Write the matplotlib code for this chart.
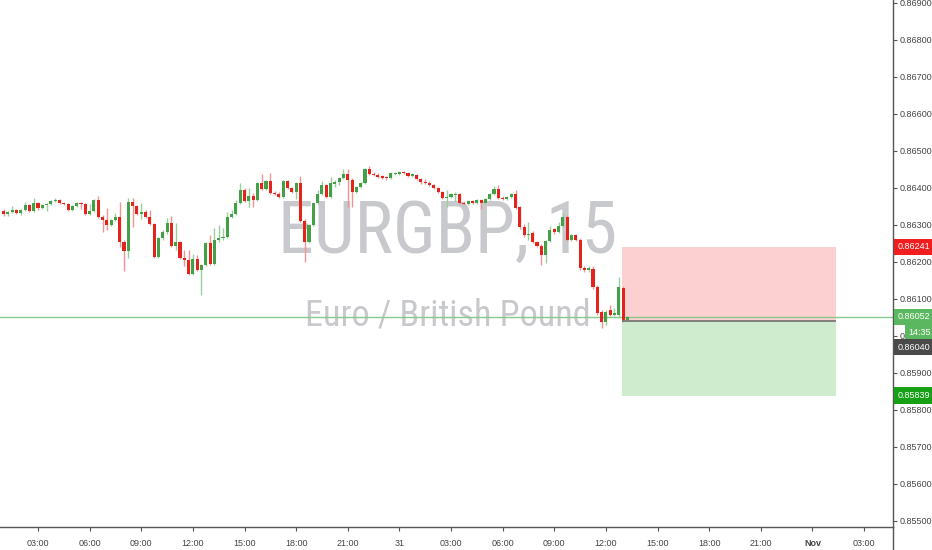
import numpy as np
import matplotlib
matplotlib.use("Agg")
from matplotlib import pyplot as plt
from matplotlib.patches import Rectangle
from matplotlib.lines import Line2D

# EURGBP 15 min candles, bar 0 = 03:00 on Oct 30
opens = [0.86338, 0.86330, 0.86335, 0.86340, 0.86332, 0.86340, 0.86354, 0.86338, 0.86359, 0.86346,
         0.86354, 0.86357, 0.86365, 0.86367, 0.86359, 0.86357, 0.86340, 0.86351, 0.86359, 0.86357,
         0.86330, 0.86338, 0.86367, 0.86322, 0.86313, 0.86300, 0.86313, 0.86322, 0.86254, 0.86230,
         0.86362, 0.86351, 0.86330, 0.86335, 0.86322, 0.86303, 0.86213, 0.86265, 0.86281, 0.86305,
         0.86243, 0.86254, 0.86211, 0.86205, 0.86167, 0.86208, 0.86178, 0.86192, 0.86251, 0.86195,
         0.86259, 0.86265, 0.86268, 0.86322, 0.86330, 0.86359, 0.86394, 0.86365, 0.86378, 0.86367,
         0.86413, 0.86397, 0.86419, 0.86386, 0.86384, 0.86376, 0.86419, 0.86400, 0.86389, 0.86413,
         0.86311, 0.86254, 0.86300, 0.86359, 0.86384, 0.86408, 0.86376, 0.86411, 0.86416, 0.86427,
         0.86438, 0.86422, 0.86389, 0.86403, 0.86413, 0.86451, 0.86438, 0.86435, 0.86432, 0.86430,
         0.86427, 0.86438, 0.86438, 0.86443, 0.86440, 0.86432, 0.86435, 0.86424, 0.86416, 0.86413,
         0.86408, 0.86400, 0.86389, 0.86373, 0.86376, 0.86381, 0.86384, 0.86359, 0.86357, 0.86365,
         0.86359, 0.86367, 0.86359, 0.86370, 0.86384, 0.86397, 0.86373, 0.86370, 0.86376, 0.86384,
         0.86349, 0.86295, 0.86273, 0.86278, 0.86254, 0.86243, 0.86219, 0.86257, 0.86289, 0.86281,
         0.86297, 0.86322, 0.86259, 0.86273, 0.86259, 0.86184, 0.86178, 0.86181, 0.86132, 0.86065,
         0.86038, 0.86070, 0.86057, 0.86057, 0.86130, 0.86043]
highs = [0.86343, 0.86338, 0.86351, 0.86343, 0.86343, 0.86362, 0.86357, 0.86373, 0.86362, 0.86357,
         0.86359, 0.86367, 0.86373, 0.86370, 0.86362, 0.86359, 0.86354, 0.86362, 0.86362, 0.86359,
         0.86357, 0.86370, 0.86378, 0.86327, 0.86346, 0.86316, 0.86332, 0.86362, 0.86259, 0.86373,
         0.86373, 0.86354, 0.86359, 0.86340, 0.86340, 0.86305, 0.86268, 0.86286, 0.86319, 0.86324,
         0.86305, 0.86257, 0.86232, 0.86232, 0.86222, 0.86219, 0.86195, 0.86254, 0.86273, 0.86292,
         0.86300, 0.86292, 0.86335, 0.86340, 0.86367, 0.86413, 0.86400, 0.86400, 0.86386, 0.86416,
         0.86438, 0.86422, 0.86440, 0.86392, 0.86389, 0.86422, 0.86422, 0.86403, 0.86416, 0.86432,
         0.86316, 0.86303, 0.86362, 0.86394, 0.86419, 0.86411, 0.86430, 0.86422, 0.86430, 0.86451,
         0.86451, 0.86427, 0.86405, 0.86416, 0.86454, 0.86459, 0.86443, 0.86440, 0.86435, 0.86432,
         0.86443, 0.86443, 0.86446, 0.86446, 0.86443, 0.86440, 0.86438, 0.86427, 0.86424, 0.86419,
         0.86411, 0.86403, 0.86392, 0.86394, 0.86386, 0.86389, 0.86386, 0.86365, 0.86367, 0.86367,
         0.86370, 0.86370, 0.86373, 0.86386, 0.86405, 0.86408, 0.86378, 0.86378, 0.86386, 0.86394,
         0.86351, 0.86303, 0.86308, 0.86284, 0.86257, 0.86249, 0.86259, 0.86297, 0.86292, 0.86308,
         0.86332, 0.86327, 0.86276, 0.86276, 0.86265, 0.86189, 0.86189, 0.86189, 0.86138, 0.86070,
         0.86070, 0.86084, 0.86076, 0.86159, 0.86135, 0.86054]
lows = [0.86324, 0.86324, 0.86332, 0.86330, 0.86327, 0.86338, 0.86335, 0.86335, 0.86340, 0.86343,
        0.86338, 0.86354, 0.86362, 0.86357, 0.86354, 0.86338, 0.86338, 0.86349, 0.86343, 0.86327,
        0.86327, 0.86335, 0.86319, 0.86281, 0.86286, 0.86297, 0.86311, 0.86240, 0.86176, 0.86211,
        0.86295, 0.86327, 0.86316, 0.86319, 0.86300, 0.86211, 0.86211, 0.86259, 0.86276, 0.86240,
        0.86232, 0.86208, 0.86189, 0.86165, 0.86165, 0.86176, 0.86111, 0.86189, 0.86192, 0.86192,
        0.86254, 0.86259, 0.86265, 0.86319, 0.86327, 0.86357, 0.86362, 0.86349, 0.86349, 0.86365,
        0.86394, 0.86394, 0.86384, 0.86381, 0.86373, 0.86373, 0.86397, 0.86386, 0.86370, 0.86308,
        0.86200, 0.86251, 0.86297, 0.86357, 0.86381, 0.86373, 0.86373, 0.86403, 0.86408, 0.86424,
        0.86349, 0.86349, 0.86386, 0.86400, 0.86411, 0.86435, 0.86432, 0.86427, 0.86424, 0.86422,
        0.86424, 0.86435, 0.86435, 0.86438, 0.86430, 0.86430, 0.86422, 0.86411, 0.86411, 0.86405,
        0.86397, 0.86386, 0.86370, 0.86349, 0.86373, 0.86365, 0.86357, 0.86354, 0.86354, 0.86357,
        0.86357, 0.86343, 0.86357, 0.86367, 0.86381, 0.86370, 0.86367, 0.86367, 0.86373, 0.86343,
        0.86289, 0.86268, 0.86259, 0.86251, 0.86240, 0.86192, 0.86197, 0.86254, 0.86276, 0.86278,
        0.86295, 0.86257, 0.86257, 0.86257, 0.86178, 0.86173, 0.86173, 0.86127, 0.86057, 0.86022,
        0.86030, 0.86054, 0.86054, 0.86049, 0.86038, 0.86040]
closes = [0.86330, 0.86335, 0.86340, 0.86332, 0.86340, 0.86354, 0.86338, 0.86359, 0.86346, 0.86354,
          0.86357, 0.86365, 0.86367, 0.86359, 0.86357, 0.86340, 0.86351, 0.86359, 0.86357, 0.86330,
          0.86338, 0.86367, 0.86322, 0.86313, 0.86300, 0.86313, 0.86322, 0.86254, 0.86230, 0.86362,
          0.86351, 0.86330, 0.86335, 0.86322, 0.86303, 0.86213, 0.86265, 0.86281, 0.86305, 0.86243,
          0.86254, 0.86211, 0.86205, 0.86167, 0.86208, 0.86178, 0.86192, 0.86251, 0.86195, 0.86259,
          0.86265, 0.86268, 0.86322, 0.86330, 0.86359, 0.86394, 0.86365, 0.86378, 0.86367, 0.86413,
          0.86397, 0.86419, 0.86386, 0.86384, 0.86376, 0.86419, 0.86400, 0.86389, 0.86413, 0.86311,
          0.86254, 0.86300, 0.86359, 0.86384, 0.86408, 0.86376, 0.86413, 0.86416, 0.86427, 0.86438,
          0.86422, 0.86389, 0.86403, 0.86413, 0.86451, 0.86438, 0.86435, 0.86430, 0.86427, 0.86427,
          0.86440, 0.86440, 0.86443, 0.86440, 0.86432, 0.86438, 0.86424, 0.86416, 0.86413, 0.86408,
          0.86400, 0.86389, 0.86373, 0.86376, 0.86384, 0.86384, 0.86359, 0.86357, 0.86365, 0.86359,
          0.86367, 0.86359, 0.86370, 0.86384, 0.86397, 0.86373, 0.86370, 0.86376, 0.86384, 0.86346,
          0.86295, 0.86273, 0.86276, 0.86254, 0.86243, 0.86219, 0.86257, 0.86286, 0.86281, 0.86297,
          0.86322, 0.86259, 0.86273, 0.86259, 0.86184, 0.86178, 0.86184, 0.86132, 0.86062, 0.86038,
          0.86065, 0.86057, 0.86062, 0.86132, 0.86043, 0.86052]
first_bar = -8

# short position tool
entry = 0.86040
stop = 0.86241
target = 0.85839
pos_start, pos_end = 135.75, 185.5
last_price = 0.86052

time_ticks = list(range(0, 193, 12))
time_labels = ['03:00', '06:00', '09:00', '12:00', '15:00', '18:00', '21:00', '31',
               '03:00', '06:00', '09:00', '12:00', '15:00', '18:00', '21:00', 'Nov', '03:00']
price_ticks = [0.855, 0.856, 0.857, 0.858, 0.859, 0.860, 0.861, 0.862,
               0.863, 0.864, 0.865, 0.866, 0.867, 0.868, 0.869]

plt.rcParams['font.family'] = ['Liberation Sans', 'DejaVu Sans']
wm_font = ['Roboto Condensed', 'Open Sans Condensed', 'Liberation Sans', 'DejaVu Sans']

o = np.array(opens); h = np.array(highs); l = np.array(lows); c = np.array(closes)
x = np.arange(len(c)) + first_bar
up = c >= o
body_col = np.where(up, '#43a047', '#e3231c')
wick_col = np.where(up, '#97d09a', '#f09393')

fig = plt.figure(figsize=(9.32, 5.5), dpi=100)
ax = fig.add_axes([0, 23/550, 893/932, 527/550])
ax.set_xlim(-8.833, 198.74)
ax.set_ylim(0.854837, 0.86908)

# watermark
ax.text(0.501, (527-253)/527, 'EURGBP, 15', transform=ax.transAxes, ha='center',
        va='baseline', fontsize=52, color='#c8c9cc', family=wm_font, zorder=0)
ax.text(0.501, (527-325)/527, 'Euro / British Pound', transform=ax.transAxes, ha='center',
        va='baseline', fontsize=26, color='#c8c9cc', family=wm_font, zorder=0)

# position boxes
ax.add_patch(Rectangle((pos_start, entry), pos_end-pos_start, stop-entry,
                       facecolor='#fcd0d1', edgecolor='none', zorder=1))
ax.add_patch(Rectangle((pos_start, target), pos_end-pos_start, entry-target,
                       facecolor='#cfeccf', edgecolor='none', zorder=1))
ax.hlines(entry, pos_start, pos_end, color='#666666', lw=1.1, zorder=4)
ax.axhline(last_price, color='#86c98a', lw=1, zorder=1.5)

# candles
ax.vlines(x, l, h, colors=wick_col, linewidth=1, zorder=2)
body_h = np.maximum(np.abs(c-o), 0.00003)
ax.bar(x, body_h, bottom=np.minimum(o, c), width=0.72, color=body_col, linewidth=0, zorder=3)

# axes styling
for s in ['top', 'left']:
    ax.spines[s].set_visible(False)
for s in ['right', 'bottom']:
    ax.spines[s].set_color('#555555')
    ax.spines[s].set_linewidth(1)
ax.yaxis.tick_right()
ax.set_yticks(price_ticks)
ax.set_yticklabels(['%.5f' % p for p in price_ticks])
ax.set_xticks(time_ticks)
ax.set_xticklabels(time_labels)
ax.tick_params(axis='both', direction='out', length=3, width=0.8, color='#555555',
               labelsize=6.5, labelcolor='#444444', pad=2)
ax.tick_params(axis='x', pad=6)
for t in ax.get_xticklabels():
    if t.get_text() == 'Nov':
        t.set_fontweight('bold')
fig.add_artist(Line2D([893/932, 893/932], [0, 23/550], transform=fig.transFigure,
                      color='#555555', lw=1))

# price tags on the scale
def tag(txt, price, bg, dx=3, dy=0):
    ax.annotate(txt, xy=(1, price), xycoords=('axes fraction', 'data'), xytext=(dx, dy),
                textcoords='offset points', ha='left', va='center', color='white',
                fontsize=6.5, annotation_clip=False, zorder=10,
                bbox=dict(boxstyle='square,pad=0.4', fc=bg, ec='none'))

tag('0.86241', stop, '#f01e1e')
tag('0.86052', last_price, '#5cb860')
tag('14:35', last_price, '#5cb860', dx=11, dy=-11.5)
tag('0.86040', entry, '#4a4a4a', dy=-18.7)
tag('0.85839', target, '#16a016')

fig.savefig('out.png', dpi=100)
